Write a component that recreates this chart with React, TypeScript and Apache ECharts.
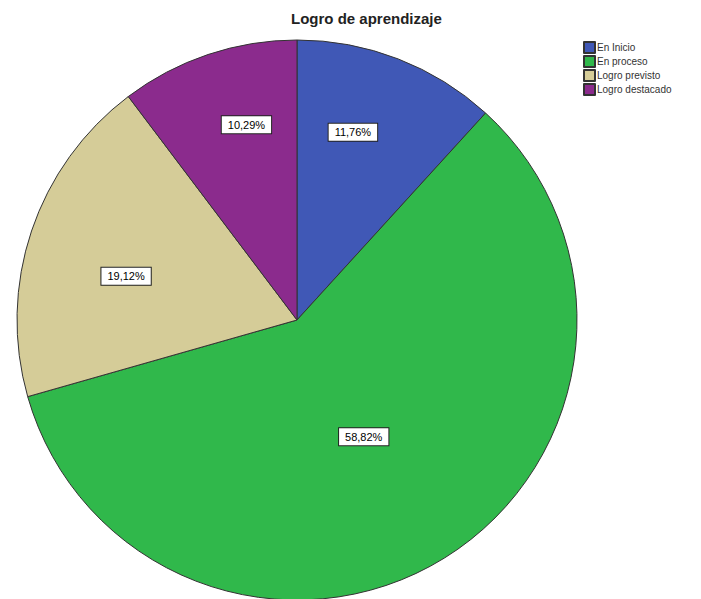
import React, { useEffect, useRef } from "react";
import * as echarts from "echarts";

const categories = ["En Inicio", "En proceso", "Logro previsto", "Logro destacado"];
const percentages = [11.76, 58.82, 19.12, 10.29];
const sliceColors = ["#4058b6", "#30b84b", "#d5cc98", "#8b2b8d"];
const labelRadiusRatio = [0.7, 0.48, 0.63, 0.72];
const labelAngleShift = [-4.6, 2, -4.2, 4];
const titleText = "Logro de aprendizaje";

const CX = 297;
const CY = 320;
const R = 280;

export default function App() {
  const ref = useRef<HTMLDivElement>(null);
  useEffect(() => {
    if (!ref.current) return;
    const chart = echarts.init(ref.current, null, { renderer: "svg" });
    chart.setOption({
      animation: false,
      backgroundColor: "#ffffff",
      title: {
        text: titleText,
        left: 291,
        top: 11,
        padding: 0,
        textStyle: {
          fontFamily: "Liberation Sans, Arial, sans-serif",
          fontWeight: "bold",
          fontSize: 15,
          color: "#222",
        },
      },
      legend: {
        orient: "vertical",
        left: 583,
        top: 41,
        padding: 0,
        itemWidth: 11,
        itemHeight: 11,
        itemGap: 1,
        icon: "rect",
        data: categories,
        textStyle: {
          fontFamily: "Liberation Sans, Arial, sans-serif",
          fontSize: 10,
          color: "#333",
          padding: [0, 0, 0, -3],
        },
      },
      series: [
        {
          type: "pie",
          center: [CX, CY],
          radius: R,
          startAngle: 90,
          clockwise: true,
          avoidLabelOverlap: false,
          itemStyle: { borderColor: "#333", borderWidth: 1 },
          emphasis: { disabled: true },
          label: {
            show: true,
            position: "inside",
            formatter: (p: any) => p.value.toFixed(2).replace(".", ",") + "%",
            fontFamily: "Liberation Sans, Arial, sans-serif",
            fontSize: 11,
            color: "#000",
            backgroundColor: "#fff",
            borderColor: "#222",
            borderWidth: 1,
            padding: [3, 6],
          },
          labelLine: { show: false },
          labelLayout: (params: any) => {
            const r = params.labelRect;
            const cx = r.x + r.width / 2;
            const cy = r.y + r.height / 2;
            const ang =
              Math.atan2(cx - CX, -(cy - CY)) +
              (labelAngleShift[params.dataIndex] * Math.PI) / 180;
            const d = labelRadiusRatio[params.dataIndex] * R;
            return {
              x: CX + d * Math.sin(ang),
              y: CY - d * Math.cos(ang),
              align: "center",
              verticalAlign: "middle",
            };
          },
          data: categories.map((name, i) => ({
            name,
            value: percentages[i],
            itemStyle: { color: sliceColors[i] },
          })),
        },
      ],
    });
    return () => chart.dispose();
  }, []);
  return (
    <div
      ref={ref}
      style={{ position: "fixed", left: 0, top: 0, width: 701, height: 599 }}
    />
  );
}
